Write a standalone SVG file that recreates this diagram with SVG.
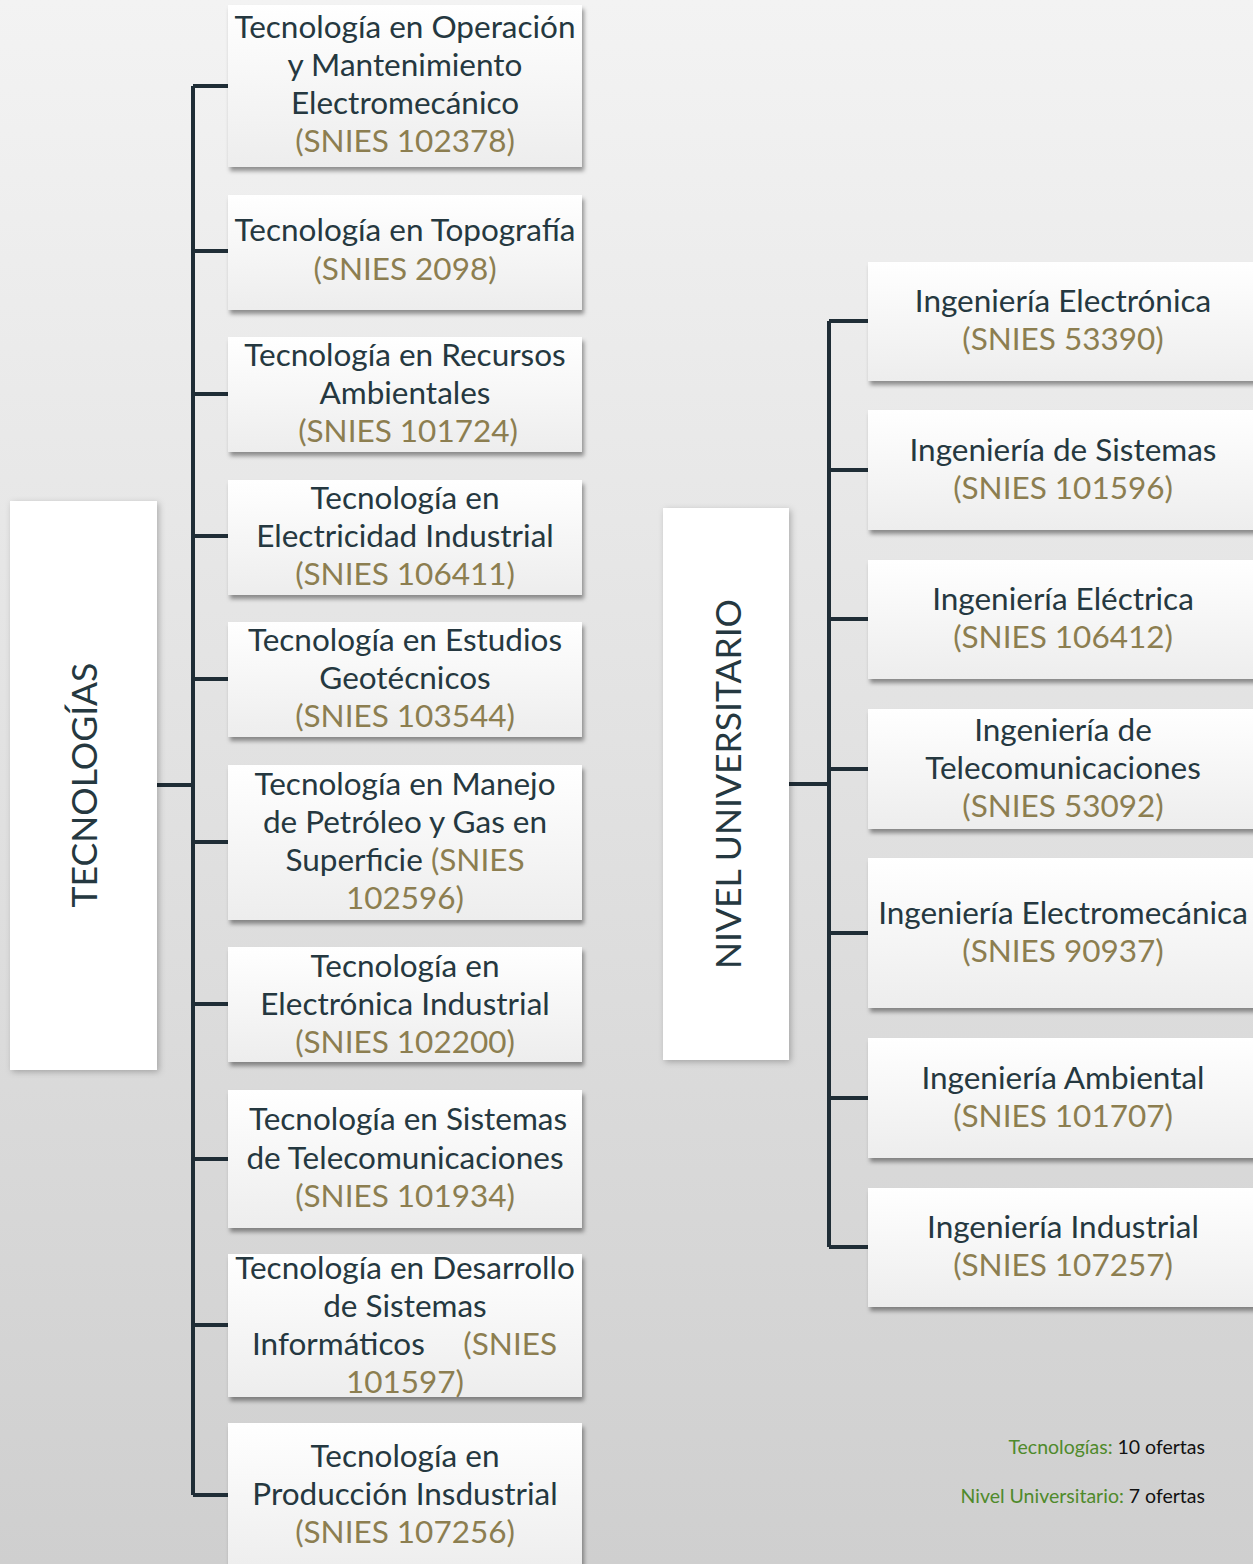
<svg xmlns="http://www.w3.org/2000/svg" width="1253" height="1564" viewBox="0 0 1253 1564">
<defs>
<linearGradient id="bg" x1="0" y1="0" x2="0" y2="1">
<stop offset="0" stop-color="#f3f3f3"/>
<stop offset="1" stop-color="#cfcfcf"/>
</linearGradient>
<linearGradient id="box" x1="0" y1="0" x2="0" y2="1">
<stop offset="0" stop-color="#ffffff"/>
<stop offset="1" stop-color="#ededed"/>
</linearGradient>
<filter id="sh" x="-10%" y="-10%" width="130%" height="130%">
<feDropShadow dx="2" dy="4" stdDeviation="2" flood-color="#000" flood-opacity="0.4"/>
</filter>
<filter id="sh2" x="-10%" y="-10%" width="130%" height="130%">
<feDropShadow dx="2" dy="2" stdDeviation="3" flood-color="#000" flood-opacity="0.25"/>
</filter>
</defs>
<style>
.b{fill:url(#box);filter:url(#sh)}
.m{fill:#ffffff;filter:url(#sh2)}
.t{font-family:Lato,"Liberation Sans",sans-serif;font-size:31.5px;fill:#253840;text-anchor:middle}
.s{fill:#8c7e50}
.v{font-family:Lato,"Liberation Sans",sans-serif;font-size:35.5px;fill:#253840;text-anchor:middle}
.c{fill:none;stroke:#1f2d36;stroke-width:4}
.l{font-family:Lato,"Liberation Sans",sans-serif;font-size:19.5px;fill:#111;text-anchor:end}
.g{fill:#4f8a2b}
</style>
<rect width="1253" height="1564" fill="url(#bg)"/>
<g id="connectors">
<path class="c" d="M157 785H193M193 86V1495M193 86H228M193 251H228M193 394H228M193 536H228M193 679H228M193 842H228M193 1004H228M193 1159H228M193 1325H228M193 1495H228"/>
<path class="c" d="M789 784H829M829 321V1247M829 321H868M829 470H868M829 619H868M829 769H868M829 933H868M829 1098H868M829 1247H868"/>
</g>
<g id="tecnologias">
<rect class="m" x="10" y="501" width="147" height="569"/>
<text class="v" transform="translate(97,785) rotate(-90)">TECNOLOGÍAS</text>
</g>
<g id="universitario">
<rect class="m" x="663" y="508" width="126" height="552"/>
<text class="v" transform="translate(741,784) rotate(-90)">NIVEL UNIVERSITARIO</text>
</g>
<g id="t1"><rect class="b" x="228" y="5" width="354" height="162"/>
<text class="t"><tspan x="405" y="38">Tecnología en Operación</tspan><tspan x="405" y="76">y Mantenimiento</tspan><tspan x="405" y="114">Electromecánico</tspan><tspan class="s" x="405" y="152">(SNIES 102378)</tspan></text></g>
<g id="t2"><rect class="b" x="228" y="195" width="354" height="115"/>
<text class="t"><tspan x="405" y="241">Tecnología en Topografía</tspan><tspan class="s" x="405" y="280">(SNIES 2098)</tspan></text></g>
<g id="t3"><rect class="b" x="228" y="337" width="354" height="115"/>
<text class="t"><tspan x="405" y="366">Tecnología en Recursos</tspan><tspan x="405" y="404">Ambientales</tspan><tspan class="s" x="408" y="442">(SNIES 101724)</tspan></text></g>
<g id="t4"><rect class="b" x="228" y="480" width="354" height="115"/>
<text class="t"><tspan x="405" y="509">Tecnología en</tspan><tspan x="405" y="547">Electricidad Industrial</tspan><tspan class="s" x="405" y="585">(SNIES 106411)</tspan></text></g>
<g id="t5"><rect class="b" x="228" y="622" width="354" height="115"/>
<text class="t"><tspan x="405" y="651">Tecnología en Estudios</tspan><tspan x="405" y="689">Geotécnicos</tspan><tspan class="s" x="405" y="727">(SNIES 103544)</tspan></text></g>
<g id="t6"><rect class="b" x="228" y="765" width="354" height="155"/>
<text class="t"><tspan x="405" y="795">Tecnología en Manejo</tspan><tspan x="405" y="833">de Petróleo y Gas en</tspan><tspan x="405" y="871">Superficie <tspan class="s">(SNIES</tspan></tspan><tspan class="s" x="405" y="909">102596)</tspan></text></g>
<g id="t7"><rect class="b" x="228" y="947" width="354" height="115"/>
<text class="t"><tspan x="405" y="977">Tecnología en</tspan><tspan x="405" y="1015">Electrónica Industrial</tspan><tspan class="s" x="405" y="1053">(SNIES 102200)</tspan></text></g>
<g id="t8"><rect class="b" x="228" y="1090" width="354" height="138"/>
<text class="t"><tspan x="408" y="1130">Tecnología en Sistemas</tspan><tspan x="405" y="1169">de Telecomunicaciones</tspan><tspan class="s" x="405" y="1207">(SNIES 101934)</tspan></text></g>
<g id="t9"><rect class="b" x="228" y="1254" width="354" height="143"/>
<text class="t"><tspan x="405" y="1279">Tecnología en Desarrollo</tspan><tspan x="405" y="1317">de Sistemas</tspan><tspan x="252" y="1355" style="text-anchor:start">Informáticos</tspan><tspan class="s" x="557" y="1355" style="text-anchor:end">(SNIES</tspan><tspan class="s" x="405" y="1393">101597)</tspan></text></g>
<g id="t10"><rect class="b" x="228" y="1423" width="354" height="150"/>
<text class="t"><tspan x="405" y="1467">Tecnología en</tspan><tspan x="405" y="1505">Producción Insdustrial</tspan><tspan class="s" x="405" y="1543">(SNIES 107256)</tspan></text></g>
<g id="u1"><rect class="b" x="868" y="262" width="395" height="119"/>
<text class="t"><tspan x="1063" y="312">Ingeniería Electrónica</tspan><tspan class="s" x="1063" y="350">(SNIES 53390)</tspan></text></g>
<g id="u2"><rect class="b" x="868" y="410" width="395" height="120"/>
<text class="t"><tspan x="1063" y="461">Ingeniería de Sistemas</tspan><tspan class="s" x="1063" y="499">(SNIES 101596)</tspan></text></g>
<g id="u3"><rect class="b" x="868" y="560" width="395" height="119"/>
<text class="t"><tspan x="1063" y="610">Ingeniería Eléctrica</tspan><tspan class="s" x="1063" y="648">(SNIES 106412)</tspan></text></g>
<g id="u4"><rect class="b" x="868" y="709" width="395" height="120"/>
<text class="t"><tspan x="1063" y="741">Ingeniería de</tspan><tspan x="1063" y="779">Telecomunicaciones</tspan><tspan class="s" x="1063" y="817">(SNIES 53092)</tspan></text></g>
<g id="u5"><rect class="b" x="868" y="858" width="395" height="150"/>
<text class="t"><tspan x="1063" y="924">Ingeniería Electromecánica</tspan><tspan class="s" x="1063" y="962">(SNIES 90937)</tspan></text></g>
<g id="u6"><rect class="b" x="868" y="1038" width="395" height="120"/>
<text class="t"><tspan x="1063" y="1089">Ingeniería Ambiental</tspan><tspan class="s" x="1063" y="1127">(SNIES 101707)</tspan></text></g>
<g id="u7"><rect class="b" x="868" y="1188" width="395" height="119"/>
<text class="t"><tspan x="1063" y="1238">Ingeniería Industrial</tspan><tspan class="s" x="1063" y="1276">(SNIES 107257)</tspan></text></g>
<g id="legend">
<text class="l" x="1205" y="1454"><tspan class="g">Tecnologías:</tspan> 10 ofertas</text>
<text class="l" x="1205" y="1503"><tspan class="g">Nivel Universitario:</tspan> 7 ofertas</text>
</g>
</svg>
